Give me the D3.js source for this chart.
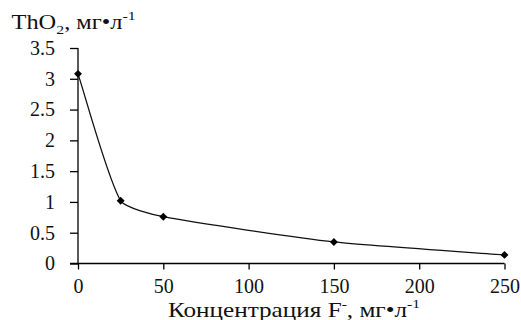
<!DOCTYPE html>
<html>
<head>
<meta charset="utf-8">
<script src="https://cdn.jsdelivr.net/npm/d3@7"></script>
<style>
  body { margin: 0; background: #fff; }
  svg text, svg tspan { font-family: "Liberation Serif", serif; }
</style>
</head>
<body>
<div id="chart"></div>
<script>
const concentration = [0, 25, 50, 150, 250];
const thoriumOxide = [3.08, 1.02, 0.76, 0.35, 0.14];
const xTicks = [0, 50, 100, 150, 200, 250];
const yTicks = [0, 0.5, 1, 1.5, 2, 2.5, 3, 3.5];

const width = 521, height = 320;
const serif = "Liberation Serif";
const data = concentration.map((c, i) => ({ x: c, y: thoriumOxide[i] }));

const svg = d3.select("#chart")
    .append("svg")
    .attr("width", width)
    .attr("height", height);

const x = d3.scaleLinear().domain([0, 250]).range([78, 504.5]);
const y = d3.scaleLinear().domain([0, 3.5]).range([263.5, 48]);

const xAxis = svg.append("g")
    .attr("transform", `translate(0, ${y(0)})`)
    .call(d3.axisBottom(x).tickValues(xTicks).tickSize(6).tickPadding(9.5).tickFormat(d3.format("")));
const yAxis = svg.append("g")
    .attr("transform", `translate(${x(0)}, 0)`)
    .call(d3.axisLeft(y).tickValues(yTicks).tickSize(8).tickPadding(15).tickFormat(d3.format("")));

[xAxis, yAxis].forEach(a => {
    a.attr("font-family", null).attr("font-size", null);
    a.select(".domain").attr("stroke", "#000").attr("stroke-width", 1.3);
    a.selectAll(".tick line").attr("stroke", "#000").attr("stroke-width", 1.3);
    a.selectAll(".tick text")
        .attr("fill", "#111")
        .style("font-family", serif)
        .style("font-size", "20px");
});
// x axis line starts at the end of the y tick
xAxis.select(".domain").attr("d", `M${x(0) - 8},0H${x(250)}`);
yAxis.select(".domain").attr("d", `M0,${y(3.5)}V${y(0)}`);

// spreadsheet-like smoothing: tangents along neighbours, kept short on short segments
const smooth = context => {
    let pts = [];
    const ctrl = (prev, cur, next, seg, sign) => {
        const dx = next[0] - prev[0], dy = next[1] - prev[1];
        const len = Math.hypot(dx, dy) || 1;
        const l = Math.min(len / 6, seg * 0.19);
        return [cur[0] + sign * dx / len * l, cur[1] + sign * dy / len * l];
    };
    return {
        areaStart() {}, areaEnd() {},
        lineStart() { pts = []; },
        point(px, py) { pts.push([+px, +py]); },
        lineEnd() {
            const n = pts.length;
            if (!n) return;
            context.moveTo(pts[0][0], pts[0][1]);
            for (let i = 0; i < n - 1; i++) {
                const p0 = pts[Math.max(i - 1, 0)], p1 = pts[i], p2 = pts[i + 1], p3 = pts[Math.min(i + 2, n - 1)];
                const seg = Math.hypot(p2[0] - p1[0], p2[1] - p1[1]);
                const c1 = ctrl(p0, p1, p2, seg, 1);
                const c2 = ctrl(p1, p2, p3, seg, -1);
                context.bezierCurveTo(c1[0], c1[1], c2[0], c2[1], p2[0], p2[1]);
            }
        }
    };
};

const line = d3.line()
    .x(d => x(d.x))
    .y(d => y(d.y))
    .curve(smooth);

svg.append("path")
    .datum(data)
    .attr("d", line)
    .attr("fill", "none")
    .attr("stroke", "#111")
    .attr("stroke-width", 1.3);

svg.selectAll(".marker")
    .data(data)
    .join("path")
    .attr("class", "marker")
    .attr("d", d3.symbol(d3.symbolDiamond2, 40))
    .attr("transform", d => `translate(${x(d.x)}, ${y(d.y)})`)
    .attr("fill", "#000");

const addPart = (t, s, dy, size) => t.append("tspan")
    .text(s)
    .attr("dy", dy)
    .style("font-family", serif)
    .style("font-size", size + "px");

// y title
const yTitle = svg.append("text")
    .attr("transform", "translate(11.5, 29.3) scale(1.22, 1)")
    .attr("fill", "#111")
    .style("font-family", serif)
    .style("font-size", "20px");
addPart(yTitle, "ThO", 0, 20);
addPart(yTitle, "2", 5, 13);
addPart(yTitle, ", мг•л", -5, 20);
addPart(yTitle, "-1", -9, 13);

// x title
const xTitle = svg.append("text")
    .attr("transform", "translate(294, 316.5) scale(1.2, 1)")
    .attr("text-anchor", "middle")
    .attr("fill", "#111")
    .style("font-family", serif)
    .style("font-size", "21px");
addPart(xTitle, "Концентрация F", 0, 21);
addPart(xTitle, "-", -9, 13);
addPart(xTitle, ", мг•л", 9, 21);
addPart(xTitle, "-1", -9, 13);
</script>
</body>
</html>
